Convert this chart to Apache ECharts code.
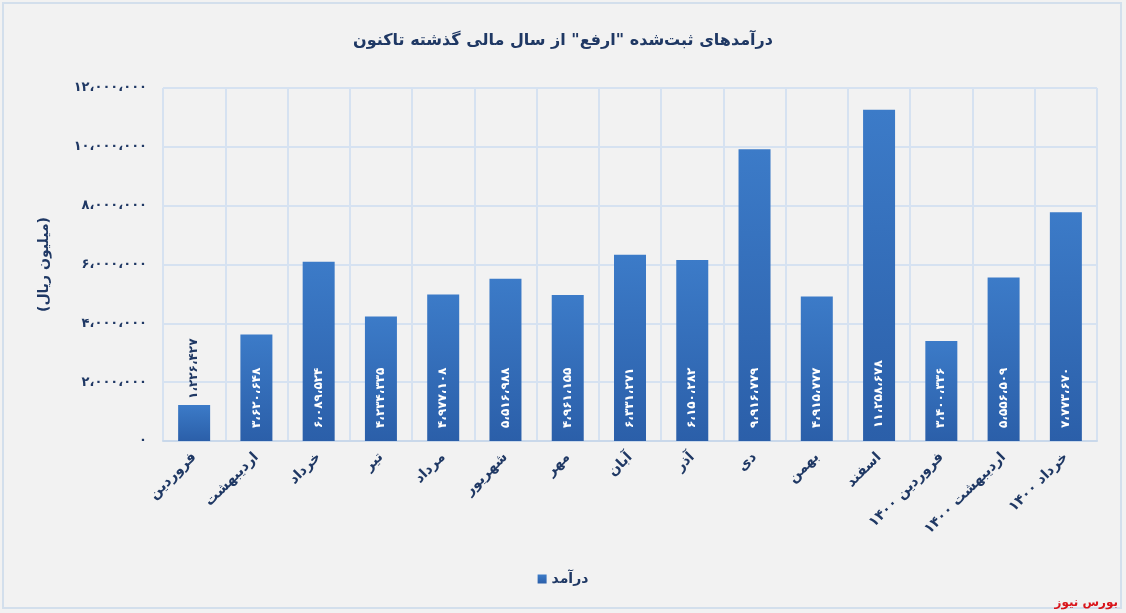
<!DOCTYPE html>
<html>
<head>
<meta charset="utf-8">
<script src="https://cdn.jsdelivr.net/npm/echarts@6/dist/echarts.min.js"></script>
<style>
html, body { margin: 0; padding: 0; background: #f2f2f2; }
#main { width: 1126px; height: 613px; }
</style>
</head>
<body>
<div id="main"></div>
<script>
var months = ['فروردین', 'اردیبهشت', 'خرداد', 'تیر', 'مرداد', 'شهریور', 'مهر', 'آبان', 'آذر', 'دی', 'بهمن', 'اسفند', 'فروردین ۱۴۰۰', 'اردیبهشت ۱۴۰۰', 'خرداد ۱۴۰۰']
var income = [1226427, 3620648, 6089524, 4234335, 4977108, 5516988, 4961155, 6331271, 6150282, 9916779, 4915777, 11258678, 3400336, 5556509, 7773670]
var y_ticks = [0, 2000000, 4000000, 6000000, 8000000, 10000000, 12000000]

var navy = '#1f3864'
var font = 'DejaVu Sans'

// اعداد فارسی با جداکننده ،
function fa_num(v){
	let s = String(v).replace(/\B(?=(\d{3})+(?!\d))/g, '،')
	return s.replace(/\d/g, function(d){ return '۰۱۲۳۴۵۶۷۸۹'[d] })
}

var bar_data = []
for(let i=0,len=income.length;i<len;i++){
	let item = {value: income[i]}
	if(income[i] < 2000000){
		item.label = {position: 'top', color: navy, distance: 6}
	}
	bar_data.push(item)
}

var chart = echarts.init(document.getElementById('main'))
var option = {
	backgroundColor: '#f2f2f2',
	title: {
		text: 'درآمدهای ثبت‌شده "ارفع" از سال مالی گذشته تاکنون',
		left: 'center',
		top: 28,
		textStyle: {color: navy, fontFamily: font, fontWeight: 'bold', fontSize: 16}
	},
	legend: {
		bottom: 22,
		left: 'center',
		itemWidth: 9,
		itemHeight: 9,
		icon: 'rect',
		data: ['درآمد'],
		textStyle: {color: navy, fontFamily: font, fontWeight: 'bold', fontSize: 14}
	},
	grid: {left: 163, right: 29, top: 88, bottom: 172},
	xAxis: {
		type: 'category',
		data: months,
		axisTick: {show: false},
		axisLine: {lineStyle: {color: '#c9d8ea', width: 2}},
		splitLine: {show: true, lineStyle: {color: '#d6e2f1', width: 2}},
		axisLabel: {
			rotate: 45,
			interval: 0,
			margin: 14,
			color: navy,
			fontFamily: font,
			fontWeight: 'bold',
			fontSize: 14
		}
	},
	yAxis: {
		type: 'value',
		min: 0,
		max: 12000000,
		interval: 2000000,
		name: '(میلیون ریال)',
		nameLocation: 'middle',
		nameGap: 112,
		nameRotate: 90,
		nameTextStyle: {color: navy, fontFamily: font, fontWeight: 'bold', fontSize: 14},
		axisLine: {show: false},
		axisTick: {show: false},
		splitLine: {lineStyle: {color: '#d6e2f1', width: 2}},
		axisLabel: {
			margin: 16,
			color: navy,
			fontFamily: font,
			fontWeight: 'bold',
			fontSize: 13,
			formatter: function(v){ return fa_num(v) }
		}
	},
	series: [{
		name: 'درآمد',
		type: 'bar',
		data: bar_data,
		barWidth: 32,
		itemStyle: {
			color: new echarts.graphic.LinearGradient(0, 0, 0, 1, [
				{offset: 0, color: '#3c7bc8'},
				{offset: 1, color: '#2b5fa9'}
			])
		},
		label: {
			show: true,
			position: 'insideBottom',
			rotate: 90,
			align: 'left',
			verticalAlign: 'middle',
			distance: 13,
			color: '#ffffff',
			fontFamily: font,
			fontWeight: 'bold',
			fontSize: 12,
			formatter: function(p){ return fa_num(p.value) }
		}
	}],
	graphic: [
		{
			type: 'rect',
			shape: {x: 3, y: 3, width: 1118, height: 605},
			style: {fill: 'none', stroke: '#d3dfec', lineWidth: 2},
			silent: true
		},
		{
			type: 'text',
			right: 8,
			bottom: 4,
			style: {text: 'بورس نیوز', fill: '#d9151b', font: 'bold 12px "DejaVu Sans"'}
		}
	]
}
chart.setOption(option)
</script>
</body>
</html>
